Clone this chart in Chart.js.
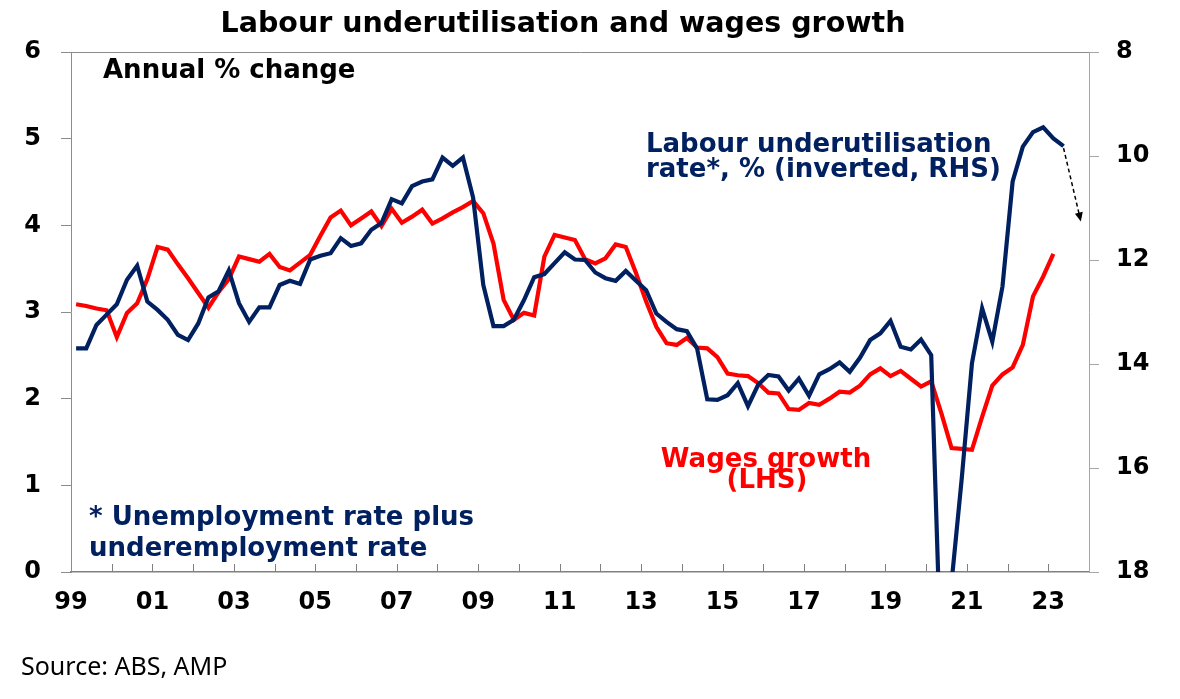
<!DOCTYPE html>
<html>
<head>
<meta charset="utf-8">
<title>Labour underutilisation and wages growth</title>
<script src="https://cdn.jsdelivr.net/npm/chart.js@4.4.0/dist/chart.umd.min.js"></script>
<style>
  html, body { margin: 0; padding: 0; background: #fff; }
  #wrap { width: 1180px; height: 699px; }
</style>
</head>
<body>
<div id="wrap"><canvas id="myChart"></canvas></div>
<script>
// quarterly, 1999 Q1 onwards
// wages growth, annual % change (LHS), to 2023 Q1
const wages = [
  3.09, 3.07, 3.04, 3.02, 2.71, 2.99, 3.10, 3.38, 3.75, 3.72,
  3.55, 3.39, 3.22, 3.05, 3.23, 3.38, 3.64, 3.61, 3.58, 3.67,
  3.52, 3.48, 3.57, 3.66, 3.88, 4.09, 4.17, 4.00, 4.08, 4.16,
  3.99, 4.19, 4.03, 4.10, 4.18, 4.02, 4.08, 4.15, 4.21, 4.28,
  4.14, 3.79, 3.14, 2.91, 2.99, 2.96, 3.64, 3.89, 3.86, 3.83,
  3.61, 3.56, 3.62, 3.78, 3.75, 3.45, 3.12, 2.83, 2.64, 2.62,
  2.70, 2.59, 2.58, 2.48, 2.29, 2.27, 2.26, 2.18, 2.07, 2.06,
  1.88, 1.87, 1.95, 1.93, 2.00, 2.08, 2.07, 2.15, 2.28, 2.35,
  2.26, 2.32, 2.23, 2.14, 2.20, 1.83, 1.43, 1.42, 1.41, 1.79,
  2.15, 2.28, 2.36, 2.62, 3.18, 3.41, 3.67
];

// labour underutilisation rate, % (RHS, inverted), to 2023 Q2
const underutil = [
  13.70, 13.70, 13.25, 13.05, 12.85, 12.38, 12.11, 12.80, 12.96, 13.15,
  13.44, 13.54, 13.22, 12.72, 12.60, 12.20, 12.83, 13.19, 12.91, 12.91,
  12.48, 12.40, 12.46, 11.99, 11.92, 11.87, 11.58, 11.73, 11.68, 11.42,
  11.29, 10.83, 10.91, 10.58, 10.49, 10.45, 10.03, 10.19, 10.03, 10.80,
  12.48, 13.27, 13.27, 13.15, 12.77, 12.33, 12.27, 12.06, 11.85, 11.99,
  12.00, 12.24, 12.35, 12.40, 12.21, 12.40, 12.58, 13.03, 13.19, 13.33,
  13.37, 13.70, 14.68, 14.69, 14.60, 14.37, 14.81, 14.40, 14.21, 14.24,
  14.51, 14.28, 14.61, 14.20, 14.10, 13.97, 14.15, 13.88, 13.54, 13.41,
  13.17, 13.67, 13.72, 13.53, 13.83, 20.00, 18.20, 16.20, 13.99, 12.93,
  13.57, 12.51, 10.49, 9.82, 9.54, 9.45, 9.66, 9.81
];

// quarter positions on the year axis (mid-quarter)
const quarters = [];
for (let y = 1999; y <= 2023; y++) {
  for (let q = 0; q < 4; q++) quarters.push(y + q * 0.25 + 0.125);
}

const yearMin = 1999, yearMax = 2024;
const leftTicks = [0, 1, 2, 3, 4, 5, 6];
const rightTicks = [8, 10, 12, 14, 16, 18];

const NAVY = '#002060';
const RED = '#ff0000';
const FONT = '"DejaVu Sans", sans-serif';

Chart.defaults.font.family = FONT;

const annotations = {
  id: 'annotations',
  afterDraw(chart) {
    const ctx = chart.ctx;
    const area = chart.chartArea;
    const xs = chart.scales.x;
    const y2 = chart.scales.y2;
    ctx.save();

    // inside tick marks on the year axis
    ctx.strokeStyle = '#808080';
    ctx.lineWidth = 1;
    for (let yr = yearMin + 1; yr < yearMax; yr++) {
      const px = Math.round(xs.getPixelForValue(yr)) + 0.5;
      ctx.beginPath();
      ctx.moveTo(px, area.bottom - 8);
      ctx.lineTo(px, area.bottom);
      ctx.stroke();
    }

    ctx.textBaseline = 'alphabetic';

    // title
    ctx.fillStyle = '#000';
    ctx.textAlign = 'center';
    ctx.font = 'bold 28.5px ' + FONT;
    ctx.fillText('Labour underutilisation and wages growth', 563, 32);

    ctx.textAlign = 'left';
    ctx.font = 'bold 26px ' + FONT;
    ctx.fillText('Annual % change', 103, 78);

    ctx.fillStyle = NAVY;
    ctx.fillText('Labour underutilisation', 646, 152);
    ctx.fillText('rate*, % (inverted, RHS)', 646, 177);
    ctx.fillText('* Unemployment rate plus', 89, 525);
    ctx.fillText('underemployment rate', 89, 556);

    ctx.fillStyle = RED;
    ctx.textAlign = 'center';
    ctx.fillText('Wages growth', 766, 467);
    ctx.fillText('(LHS)', 767, 488);

    ctx.fillStyle = '#000';
    ctx.textAlign = 'left';
    ctx.font = '25px "Noto Sans", sans-serif';
    ctx.fillText('Source: ABS, AMP', 21, 675);

    // dashed arrow from the latest underutilisation reading
    const meta = chart.getDatasetMeta(0);
    const last = meta.data[meta.data.length - 1];
    const ex = xs.getPixelForValue(2023.8);
    const ey = y2.getPixelForValue(11.26);
    const ang = Math.atan2(ey - last.y, ex - last.x);
    ctx.strokeStyle = '#000';
    ctx.lineWidth = 1.5;
    ctx.setLineDash([4, 3]);
    ctx.beginPath();
    ctx.moveTo(last.x, last.y + 2);
    ctx.lineTo(ex - 6 * Math.cos(ang), ey - 6 * Math.sin(ang));
    ctx.stroke();
    ctx.setLineDash([]);
    ctx.fillStyle = '#000';
    ctx.beginPath();
    ctx.moveTo(ex, ey);
    ctx.lineTo(ex - 9 * Math.cos(ang) + 4 * Math.sin(ang), ey - 9 * Math.sin(ang) - 4 * Math.cos(ang));
    ctx.lineTo(ex - 9 * Math.cos(ang) - 4 * Math.sin(ang), ey - 9 * Math.sin(ang) + 4 * Math.cos(ang));
    ctx.closePath();
    ctx.fill();

    ctx.restore();
  }
};

const ctx = document.getElementById('myChart').getContext('2d');
const myChart = new Chart(ctx, {
  type: 'line',
  data: {
    datasets: [
      {
        label: 'Labour underutilisation rate*, % (inverted, RHS)',
        data: underutil.map((v, i) => ({ x: quarters[i], y: v })),
        yAxisID: 'y2',
        borderColor: NAVY,
        borderWidth: 4.2,
        pointRadius: 0,
        tension: 0,
        clip: 0
      },
      {
        label: 'Wages growth (LHS)',
        data: wages.map((v, i) => ({ x: quarters[i], y: v })),
        yAxisID: 'y',
        borderColor: RED,
        borderWidth: 4.2,
        pointRadius: 0,
        tension: 0
      }
    ]
  },
  options: {
    responsive: true,
    maintainAspectRatio: false,
    animation: false,
    layout: { padding: { top: 52, left: 0, right: 0, bottom: 0 } },
    plugins: {
      legend: { display: false },
      tooltip: { enabled: false },
      title: { display: false }
    },
    scales: {
      x: {
        type: 'linear',
        min: yearMin,
        max: yearMax,
        afterFit: s => { s.height = 127; },
        afterBuildTicks: s => {
          const t = [];
          for (let yr = yearMin; yr <= yearMax; yr++) t.push({ value: yr });
          s.ticks = t;
        },
        grid: { drawOnChartArea: false, drawTicks: false },
        border: { display: true, color: '#808080', width: 1.5 },
        ticks: {
          autoSkip: false,
          maxRotation: 0,
          padding: 16,
          color: '#000',
          font: { size: 24, weight: 'bold' },
          callback: v => (Math.round(v) % 2 === 1) ? String(Math.round(v)).slice(2) : ''
        }
      },
      y: {
        position: 'left',
        min: 0,
        max: 6,
        afterFit: s => { s.width = 71; },
        afterBuildTicks: s => { s.ticks = leftTicks.map(v => ({ value: v })); },
        grid: {
          drawOnChartArea: true,
          tickLength: 10,
          color: c => (c.tick && c.tick.value === 6) ? '#8c8c8c' : 'rgba(0,0,0,0)',
          tickColor: '#8c8c8c'
        },
        border: { display: true, color: '#8c8c8c', width: 1 },
        ticks: {
          padding: 20,
          color: '#000',
          font: { size: 24, weight: 'bold' }
        }
      },
      y2: {
        position: 'right',
        reverse: true,
        min: 8,
        max: 18,
        afterFit: s => { s.width = 91; },
        afterBuildTicks: s => { s.ticks = rightTicks.map(v => ({ value: v })); },
        grid: { drawOnChartArea: false, tickLength: 10, color: '#a6a6a6' },
        border: { display: true, color: '#a6a6a6', width: 1 },
        ticks: {
          padding: 17,
          color: '#000',
          font: { size: 24, weight: 'bold' }
        }
      }
    }
  },
  plugins: [annotations]
});
</script>
</body>
</html>
